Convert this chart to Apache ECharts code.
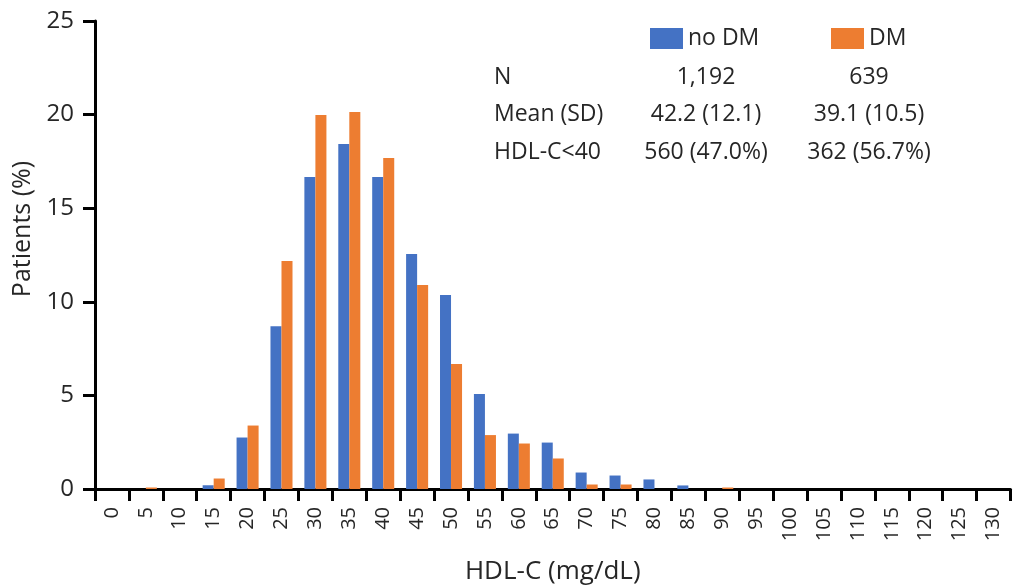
<!DOCTYPE html>
<html>
<head>
<meta charset="utf-8">
<script src="https://cdn.jsdelivr.net/npm/echarts@6/dist/echarts.min.js"></script>
<style>html,body{margin:0;padding:0;background:#fff}#c{width:1014px;height:587px}</style>
</head>
<body>
<div id="c"></div>
<script>
const categories = ['0','5','10','15','20','25','30','35','40','45','50','55','60','65','70','75','80','85','90','95','100','105','110','115','120','125','130'];
const noDM = [0,0,0,0.2,2.75,8.7,16.67,18.43,16.67,12.55,10.36,5.07,2.96,2.48,0.88,0.72,0.51,0.19,0,0,0,0,0,0,0,0,0];
const DM   = [0,0.08,0,0.56,3.39,12.18,19.98,20.14,17.68,10.9,6.68,2.88,2.43,1.63,0.24,0.24,0,0,0.08,0,0,0,0,0,0,0,0];
const seriesNames = ['no DM','DM'];
const rowLabels = ['N','Mean (SD)','HDL-C<40'];
const noDMStats = ['1,192','42.2 (12.1)','560 (47.0%)'];
const DMStats = ['639','39.1 (10.5)','362 (56.7%)'];

const FONT = '"Open Sans", sans-serif';
const TXT = '#262626';
const BLUE = '#4472C4', ORANGE = '#ED7D31';

const graphics = [];
const rowY = [77, 114, 152];
rowLabels.forEach((t, i) => {
  graphics.push({type:'text', x:494, y: rowY[i], style:{text:t, font:'23px ' + FONT, fill:TXT, textAlign:'left', textVerticalAlign:'middle'}});
  graphics.push({type:'text', x:706, y: rowY[i], style:{text:noDMStats[i], font:'23px ' + FONT, fill:TXT, textAlign:'center', textVerticalAlign:'middle'}});
  graphics.push({type:'text', x:869, y: rowY[i], style:{text:DMStats[i], font:'23px ' + FONT, fill:TXT, textAlign:'center', textVerticalAlign:'middle'}});
});

const chart = echarts.init(document.getElementById('c'));
chart.setOption({
  animation: false,
  backgroundColor: '#fff',
  textStyle: {fontFamily: FONT},
  grid: {left: 95, right: 3.5, top: 21, bottom: 98, containLabel: false, outerBoundsMode: 'none'},
  legend: [
    {data:[seriesNames[0]], left:645, top:22, itemWidth:33, itemHeight:21, icon:'rect', itemGap:0,
     textStyle:{fontSize:23, color:TXT, fontFamily:FONT}},
    {data:[seriesNames[1]], left:826, top:22, itemWidth:33, itemHeight:21, icon:'rect', itemGap:0,
     textStyle:{fontSize:23, color:TXT, fontFamily:FONT}}
  ],
  graphic: graphics,
  xAxis: {
    type: 'category',
    data: categories,
    name: 'HDL-C (mg/dL)',
    nameLocation: 'middle',
    nameGap: 70,
    nameTextStyle: {fontSize: 26, color: TXT, fontFamily: FONT, verticalAlign:'top'},
    axisLine: {lineStyle: {color: '#000', width: 3}},
    axisTick: {show: true, length: 12, lineStyle: {color: '#000', width: 3}},
    axisLabel: {interval: 0, rotate: 90, fontSize: 20, color: TXT, margin: 18, fontFamily: FONT}
  },
  yAxis: {
    type: 'value',
    min: 0, max: 25, interval: 5,
    name: 'Patients (%)',
    nameLocation: 'middle',
    nameGap: 58,
    nameRotate: 90,
    nameTextStyle: {fontSize: 25, color: TXT, fontFamily: FONT, padding: [0, 0, 0, 52]},
    axisLine: {show: true, lineStyle: {color: '#000', width: 3}},
    axisTick: {show: true, length: 12, lineStyle: {color: '#000', width: 3}},
    axisLabel: {fontSize: 24, color: TXT, margin: 21, fontFamily: FONT},
    splitLine: {show: false}
  },
  series: [
    {name: seriesNames[0], type: 'bar', data: noDM, itemStyle: {color: BLUE}, barGap: '0%', barCategoryGap: '35%'},
    {name: seriesNames[1], type: 'bar', data: DM, itemStyle: {color: ORANGE}, barGap: '0%', barCategoryGap: '35%'}
  ]
});
</script>
</body>
</html>
